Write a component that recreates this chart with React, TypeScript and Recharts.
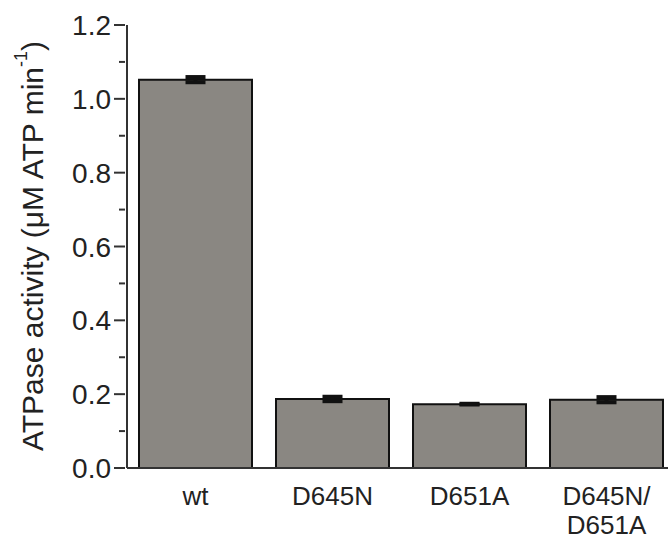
import React from "react";
import { BarChart, Bar, XAxis, YAxis, ErrorBar } from "recharts";

const categories = ["wt", "D645N", "D651A", "D645N/\nD651A"];
const activity = [1.052, 0.187, 0.173, 0.185];
const errors = [0.007, 0.006, 0.001, 0.007];
const yTicks = [0, 0.1, 0.2, 0.3, 0.4, 0.5, 0.6, 0.7, 0.8, 0.9, 1.0, 1.1, 1.2];
const majorTicks = [0, 0.2, 0.4, 0.6, 0.8, 1.0, 1.2];

const data = categories.map((c, i) => ({ name: c, value: activity[i], err: errors[i] }));

const FONT = "'Liberation Sans', Arial, sans-serif";
const TEXT = "#222";

const YTick = (props: any) => {
  const { x, y, payload } = props;
  const v = Number(payload.value);
  const isMajor = majorTicks.some((m) => Math.abs(m - v) < 1e-6);
  const ax = x;
  return (
    <g>
      <line x1={ax - (isMajor ? 11 : 6)} x2={ax} y1={y} y2={y} stroke="#333" strokeWidth={2} />
      {isMajor && (
        <text x={ax - 14} y={y} dy={10} textAnchor="end" fontSize={28} fill={TEXT} fontFamily={FONT}>
          {v.toFixed(1)}
        </text>
      )}
    </g>
  );
};

const XTick = (props: any) => {
  const { x, y, payload } = props;
  const lines = String(payload.value).split("\n");
  return (
    <g>
      {lines.map((l, i) => (
        <text key={i} x={x} y={y + 29 + i * 29} textAnchor="middle" fontSize={26} fill={TEXT} fontFamily={FONT}>
          {l}
        </text>
      ))}
    </g>
  );
};

const YLabel = () => {
  const cx = 32;
  const cy = 246;
  return (
    <text
      x={cx}
      y={cy}
      transform={`rotate(-90, ${cx}, ${cy})`}
      textAnchor="middle"
      dominantBaseline="central"
      fontSize={30}
      fill={TEXT}
      fontFamily={FONT}
    >
      ATPase activity (μM ATP min
      <tspan fontSize={18} dy={-11}>-1</tspan>
      <tspan dy={11}>)</tspan>
    </text>
  );
};

export default function App() {
  return (
    <div style={{ position: "absolute", left: 0, top: 0, width: 668, height: 540, overflow: "hidden", background: "#fff" }}>
      <BarChart
        width={700}
        height={540}
        data={data}
        margin={{ top: 25, right: 25, bottom: 0, left: 0 }}
        barCategoryGap={12}
      >
        <XAxis
          dataKey="name"
          height={72}
          tickLine={false}
          axisLine={{ stroke: "#333", strokeWidth: 2 }}
          tick={<XTick />}
          interval={0}
        />
        <YAxis
          width={127}
          domain={[0, 1.2]}
          ticks={yTicks}
          interval={0}
          tickLine={false}
          tickSize={0}
          axisLine={{ stroke: "#333", strokeWidth: 2 }}
          tick={<YTick />}
          label={<YLabel />}
        />
        <Bar dataKey="value" fill="#8a8782" stroke="#111" strokeWidth={2} isAnimationActive={false}>
          <ErrorBar dataKey="err" width={10} strokeWidth={4} stroke="#111" />
        </Bar>
      </BarChart>
    </div>
  );
}
